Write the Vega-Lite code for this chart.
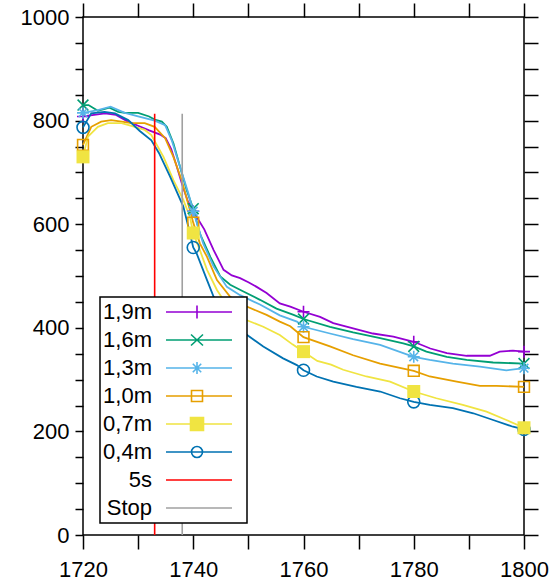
{
  "$schema": "https://vega.github.io/schema/vega-lite/v6.json",
  "width": 441,
  "height": 518,
  "autosize": {"type": "none"},
  "padding": {"left": 83, "top": 17, "right": 33, "bottom": 49},
  "background": "white",
  "config": {
    "font": "Liberation Sans",
    "view": {"stroke": "#000000", "strokeWidth": 1.5}
  },
  "datasets": {
    "lines": [
      {"series": "1,9m", "year": 1720, "value": 808}, {"series": "1,9m", "year": 1722, "value": 811}, {"series": "1,9m", "year": 1724, "value": 814}, {"series": "1,9m", "year": 1726, "value": 811}, {"series": "1,9m", "year": 1728, "value": 799}, {"series": "1,9m", "year": 1730, "value": 790}, {"series": "1,9m", "year": 1732, "value": 781}, {"series": "1,9m", "year": 1734, "value": 773}, {"series": "1,9m", "year": 1735, "value": 766}, {"series": "1,9m", "year": 1736, "value": 745}, {"series": "1,9m", "year": 1737, "value": 712}, {"series": "1,9m", "year": 1738, "value": 676}, {"series": "1,9m", "year": 1739, "value": 645}, {"series": "1,9m", "year": 1740, "value": 625}, {"series": "1,9m", "year": 1742, "value": 590}, {"series": "1,9m", "year": 1743.7, "value": 550}, {"series": "1,9m", "year": 1745.5, "value": 512}, {"series": "1,9m", "year": 1747, "value": 501}, {"series": "1,9m", "year": 1748.5, "value": 496}, {"series": "1,9m", "year": 1750, "value": 488}, {"series": "1,9m", "year": 1751.5, "value": 479}, {"series": "1,9m", "year": 1753.3, "value": 467}, {"series": "1,9m", "year": 1755.7, "value": 447}, {"series": "1,9m", "year": 1757.6, "value": 441}, {"series": "1,9m", "year": 1760, "value": 431}, {"series": "1,9m", "year": 1763, "value": 421}, {"series": "1,9m", "year": 1765.4, "value": 409}, {"series": "1,9m", "year": 1769, "value": 399}, {"series": "1,9m", "year": 1772.6, "value": 389}, {"series": "1,9m", "year": 1776.3, "value": 383}, {"series": "1,9m", "year": 1780, "value": 373}, {"series": "1,9m", "year": 1783, "value": 360}, {"series": "1,9m", "year": 1786, "value": 351}, {"series": "1,9m", "year": 1789.6, "value": 346}, {"series": "1,9m", "year": 1793.8, "value": 346}, {"series": "1,9m", "year": 1795.6, "value": 354}, {"series": "1,9m", "year": 1798, "value": 356}, {"series": "1,9m", "year": 1800, "value": 354},

      {"series": "1,6m", "year": 1720, "value": 830}, {"series": "1,6m", "year": 1721, "value": 830}, {"series": "1,6m", "year": 1722.7, "value": 819}, {"series": "1,6m", "year": 1724.8, "value": 825}, {"series": "1,6m", "year": 1726.4, "value": 817}, {"series": "1,6m", "year": 1727.6, "value": 815}, {"series": "1,6m", "year": 1730, "value": 815}, {"series": "1,6m", "year": 1732, "value": 808}, {"series": "1,6m", "year": 1733, "value": 802}, {"series": "1,6m", "year": 1734.3, "value": 798}, {"series": "1,6m", "year": 1735.2, "value": 788}, {"series": "1,6m", "year": 1736.4, "value": 756}, {"series": "1,6m", "year": 1737.6, "value": 711}, {"series": "1,6m", "year": 1738.8, "value": 666}, {"series": "1,6m", "year": 1740, "value": 630}, {"series": "1,6m", "year": 1741.2, "value": 582}, {"series": "1,6m", "year": 1743.1, "value": 537}, {"series": "1,6m", "year": 1744.9, "value": 499}, {"series": "1,6m", "year": 1746.7, "value": 483}, {"series": "1,6m", "year": 1749.1, "value": 470}, {"series": "1,6m", "year": 1752.1, "value": 454}, {"series": "1,6m", "year": 1755.1, "value": 437}, {"series": "1,6m", "year": 1758.2, "value": 425}, {"series": "1,6m", "year": 1760, "value": 417}, {"series": "1,6m", "year": 1764.8, "value": 402}, {"series": "1,6m", "year": 1769, "value": 391}, {"series": "1,6m", "year": 1773.9, "value": 380}, {"series": "1,6m", "year": 1778.1, "value": 370}, {"series": "1,6m", "year": 1780, "value": 364}, {"series": "1,6m", "year": 1782.3, "value": 354}, {"series": "1,6m", "year": 1786, "value": 344}, {"series": "1,6m", "year": 1789.6, "value": 338}, {"series": "1,6m", "year": 1794.4, "value": 333}, {"series": "1,6m", "year": 1800, "value": 331},

      {"series": "1,3m", "year": 1720, "value": 815}, {"series": "1,3m", "year": 1722.7, "value": 820}, {"series": "1,3m", "year": 1725, "value": 827}, {"series": "1,3m", "year": 1727.6, "value": 815}, {"series": "1,3m", "year": 1730, "value": 808}, {"series": "1,3m", "year": 1733, "value": 800}, {"series": "1,3m", "year": 1734.9, "value": 791}, {"series": "1,3m", "year": 1736.1, "value": 762}, {"series": "1,3m", "year": 1737.6, "value": 711}, {"series": "1,3m", "year": 1739.1, "value": 660}, {"series": "1,3m", "year": 1740, "value": 625}, {"series": "1,3m", "year": 1741.8, "value": 563}, {"series": "1,3m", "year": 1743.7, "value": 518}, {"series": "1,3m", "year": 1746.1, "value": 479}, {"series": "1,3m", "year": 1748.5, "value": 463}, {"series": "1,3m", "year": 1752.1, "value": 445}, {"series": "1,3m", "year": 1755.7, "value": 424}, {"series": "1,3m", "year": 1758.8, "value": 412}, {"series": "1,3m", "year": 1760, "value": 402}, {"series": "1,3m", "year": 1764.8, "value": 389}, {"series": "1,3m", "year": 1769, "value": 378}, {"series": "1,3m", "year": 1773.9, "value": 367}, {"series": "1,3m", "year": 1780, "value": 344}, {"series": "1,3m", "year": 1782.9, "value": 338}, {"series": "1,3m", "year": 1787.1, "value": 331}, {"series": "1,3m", "year": 1792, "value": 325}, {"series": "1,3m", "year": 1796.8, "value": 318}, {"series": "1,3m", "year": 1800, "value": 322},

      {"series": "1,0m", "year": 1720, "value": 753}, {"series": "1,0m", "year": 1721.5, "value": 788}, {"series": "1,0m", "year": 1723.3, "value": 798}, {"series": "1,0m", "year": 1725.1, "value": 801}, {"series": "1,0m", "year": 1727, "value": 798}, {"series": "1,0m", "year": 1728.8, "value": 795}, {"series": "1,0m", "year": 1731.2, "value": 795}, {"series": "1,0m", "year": 1733, "value": 788}, {"series": "1,0m", "year": 1734.9, "value": 766}, {"series": "1,0m", "year": 1736.4, "value": 730}, {"series": "1,0m", "year": 1737.9, "value": 685}, {"series": "1,0m", "year": 1739.4, "value": 627}, {"series": "1,0m", "year": 1740, "value": 603}, {"series": "1,0m", "year": 1741.2, "value": 563}, {"series": "1,0m", "year": 1742.5, "value": 537}, {"series": "1,0m", "year": 1744.3, "value": 492}, {"series": "1,0m", "year": 1746.7, "value": 460}, {"series": "1,0m", "year": 1749.7, "value": 441}, {"series": "1,0m", "year": 1753.3, "value": 425}, {"series": "1,0m", "year": 1755.7, "value": 412}, {"series": "1,0m", "year": 1757.6, "value": 403}, {"series": "1,0m", "year": 1760, "value": 382}, {"series": "1,0m", "year": 1764.8, "value": 364}, {"series": "1,0m", "year": 1769, "value": 347}, {"series": "1,0m", "year": 1773.9, "value": 331}, {"series": "1,0m", "year": 1780, "value": 317}, {"series": "1,0m", "year": 1782.9, "value": 306}, {"series": "1,0m", "year": 1787.8, "value": 296}, {"series": "1,0m", "year": 1792, "value": 288}, {"series": "1,0m", "year": 1795, "value": 288}, {"series": "1,0m", "year": 1800, "value": 286},

      {"series": "0,7m", "year": 1720, "value": 730}, {"series": "0,7m", "year": 1720.9, "value": 769}, {"series": "0,7m", "year": 1722.7, "value": 788}, {"series": "0,7m", "year": 1724.5, "value": 795}, {"series": "0,7m", "year": 1727, "value": 795}, {"series": "0,7m", "year": 1729.4, "value": 788}, {"series": "0,7m", "year": 1731.2, "value": 782}, {"series": "0,7m", "year": 1732.4, "value": 772}, {"series": "0,7m", "year": 1734.6, "value": 730}, {"series": "0,7m", "year": 1736.4, "value": 685}, {"series": "0,7m", "year": 1738.2, "value": 647}, {"series": "0,7m", "year": 1739.4, "value": 614}, {"series": "0,7m", "year": 1740, "value": 583}, {"series": "0,7m", "year": 1741.2, "value": 550}, {"series": "0,7m", "year": 1742.5, "value": 512}, {"series": "0,7m", "year": 1744.3, "value": 473}, {"series": "0,7m", "year": 1746.7, "value": 434}, {"series": "0,7m", "year": 1749.4, "value": 416}, {"series": "0,7m", "year": 1752.7, "value": 402}, {"series": "0,7m", "year": 1755.7, "value": 386}, {"series": "0,7m", "year": 1758, "value": 368}, {"series": "0,7m", "year": 1760, "value": 354}, {"series": "0,7m", "year": 1762.5, "value": 336}, {"series": "0,7m", "year": 1765, "value": 329}, {"series": "0,7m", "year": 1767.2, "value": 319}, {"series": "0,7m", "year": 1771.4, "value": 306}, {"series": "0,7m", "year": 1775.7, "value": 296}, {"series": "0,7m", "year": 1780, "value": 277}, {"series": "0,7m", "year": 1784.1, "value": 264}, {"series": "0,7m", "year": 1788.9, "value": 251}, {"series": "0,7m", "year": 1793.2, "value": 238}, {"series": "0,7m", "year": 1796.8, "value": 222}, {"series": "0,7m", "year": 1800, "value": 207},

      {"series": "0,4m", "year": 1720, "value": 787}, {"series": "0,4m", "year": 1721.5, "value": 814}, {"series": "0,4m", "year": 1723.9, "value": 817}, {"series": "0,4m", "year": 1725.8, "value": 814}, {"series": "0,4m", "year": 1728.2, "value": 801}, {"series": "0,4m", "year": 1730.3, "value": 780}, {"series": "0,4m", "year": 1732.4, "value": 762}, {"series": "0,4m", "year": 1733.8, "value": 737}, {"series": "0,4m", "year": 1735.8, "value": 692}, {"series": "0,4m", "year": 1738.2, "value": 634}, {"series": "0,4m", "year": 1739, "value": 600}, {"series": "0,4m", "year": 1740, "value": 555}, {"series": "0,4m", "year": 1740.6, "value": 544}, {"series": "0,4m", "year": 1742.5, "value": 492}, {"series": "0,4m", "year": 1743.7, "value": 460}, {"series": "0,4m", "year": 1746.5, "value": 422}, {"series": "0,4m", "year": 1749.4, "value": 389}, {"series": "0,4m", "year": 1752.7, "value": 364}, {"series": "0,4m", "year": 1756.3, "value": 341}, {"series": "0,4m", "year": 1758.8, "value": 328}, {"series": "0,4m", "year": 1760, "value": 318}, {"series": "0,4m", "year": 1762.4, "value": 306}, {"series": "0,4m", "year": 1765.4, "value": 296}, {"series": "0,4m", "year": 1769.6, "value": 286}, {"series": "0,4m", "year": 1773.9, "value": 277}, {"series": "0,4m", "year": 1777.5, "value": 264}, {"series": "0,4m", "year": 1780, "value": 257}, {"series": "0,4m", "year": 1782.9, "value": 251}, {"series": "0,4m", "year": 1787.1, "value": 245}, {"series": "0,4m", "year": 1790.8, "value": 235}, {"series": "0,4m", "year": 1794.4, "value": 222}, {"series": "0,4m", "year": 1798, "value": 209}, {"series": "0,4m", "year": 1800, "value": 204}
    ],
    "marks": [
      {"series": "1,9m", "year": 1720, "value": 808}, {"series": "1,9m", "year": 1740, "value": 625}, {"series": "1,9m", "year": 1760, "value": 431}, {"series": "1,9m", "year": 1780, "value": 373}, {"series": "1,9m", "year": 1800, "value": 354},
      {"series": "1,6m", "year": 1720, "value": 830}, {"series": "1,6m", "year": 1740, "value": 630}, {"series": "1,6m", "year": 1760, "value": 417}, {"series": "1,6m", "year": 1780, "value": 364}, {"series": "1,6m", "year": 1800, "value": 331},
      {"series": "1,3m", "year": 1720, "value": 815}, {"series": "1,3m", "year": 1740, "value": 625}, {"series": "1,3m", "year": 1760, "value": 402}, {"series": "1,3m", "year": 1780, "value": 344}, {"series": "1,3m", "year": 1800, "value": 322},
      {"series": "1,0m", "year": 1720, "value": 753}, {"series": "1,0m", "year": 1740, "value": 603}, {"series": "1,0m", "year": 1760, "value": 382}, {"series": "1,0m", "year": 1780, "value": 317}, {"series": "1,0m", "year": 1800, "value": 286},
      {"series": "0,7m", "year": 1720, "value": 730}, {"series": "0,7m", "year": 1740, "value": 583}, {"series": "0,7m", "year": 1760, "value": 354}, {"series": "0,7m", "year": 1780, "value": 277}, {"series": "0,7m", "year": 1800, "value": 207},
      {"series": "0,4m", "year": 1720, "value": 787}, {"series": "0,4m", "year": 1740, "value": 555}, {"series": "0,4m", "year": 1760, "value": 318}, {"series": "0,4m", "year": 1780, "value": 257}, {"series": "0,4m", "year": 1800, "value": 204}
    ],
    "rules": [
      {"series": "5s", "year": 1733, "low": 0, "high": 813},
      {"series": "Stop", "year": 1738, "low": 0, "high": 813}
    ]
  },
  "layer": [
    {
      "data": {"name": "lines"},
      "mark": {"type": "line", "strokeWidth": 1.8},
      "encoding": {
        "x": {
          "field": "year", "type": "quantitative",
          "scale": {"domain": [1720, 1800], "nice": false, "zero": false},
          "axis": {
            "orient": "bottom", "title": null, "grid": false, "domain": false,
            "values": [1720, 1730, 1740, 1750, 1760, 1770, 1780, 1790, 1800],
            "format": "d",
            "labelExpr": "datum.value % 20 === 0 ? datum.label : ''",
            "labelFontSize": 22, "labelColor": "#000000", "labelFont": "Liberation Sans",
            "labelFlush": false, "labelOverlap": false, "labelBound": false,
            "tickSize": 14, "labelPadding": 10, "tickColor": "#000000", "tickWidth": 1.5,
            "encode": {"ticks": {"update": {"y2": {"signal": "datum.value % 20 === 0 ? -14 : -7"}}}}
          }
        },
        "y": {
          "field": "value", "type": "quantitative",
          "scale": {"domain": [0, 1000], "nice": false},
          "axis": {
            "orient": "left", "title": null, "grid": false, "domain": false,
            "values": [0, 50, 100, 150, 200, 250, 300, 350, 400, 450, 500, 550, 600, 650, 700, 750, 800, 850, 900, 950, 1000],
            "format": "d",
            "labelExpr": "datum.value % 200 === 0 ? datum.label : ''",
            "labelFontSize": 22, "labelColor": "#000000", "labelFont": "Liberation Sans",
            "labelOverlap": false, "labelBound": false, "labelFlush": false,
            "tickSize": 8, "labelPadding": 6, "tickColor": "#000000", "tickWidth": 1.5,
            "encode": {"ticks": {"update": {"x2": {"signal": "datum.value % 200 === 0 ? 14 : 7"}}}}
          }
        },
        "color": {
          "field": "series", "type": "nominal",
          "scale": {
            "domain": ["1,9m", "1,6m", "1,3m", "1,0m", "0,7m", "0,4m", "5s", "Stop"],
            "range": ["#9400d3", "#009e73", "#56b4e9", "#e69f00", "#f0e442", "#0072b2", "#ff0000", "#a0a0a0"]
          },
          "legend": {
            "orient": "none", "legendX": 17, "legendY": 280,
            "title": null,
            "fillColor": "#ffffff", "strokeColor": "#000000",
            "padding": 4, "rowPadding": 6,
            "labelFont": "Liberation Sans", "labelFontSize": 22, "labelColor": "#000000",
            "labelAlign": "right", "labelOffset": 26, "labelLimit": 0,
            "symbolSize": 400, "symbolStrokeWidth": 1.6,
            "encode": {
              "legend": {"update": {"strokeWidth": {"value": 1.5}}},
              "symbols": {
                "update": {
                  "shape": {"signal": "datum.value === '1,9m' ? 'M5.1,0H11.7M8.2,-0.65V0.65M12.4,0' : datum.value === '1,6m' ? 'M5.1,0H11.7M7.6,-0.55L8.8,0.55M7.6,0.55L8.8,-0.55M12.4,0' : datum.value === '1,3m' ? 'M5.1,0H11.7M8.2,-0.6V0.6M7.78,-0.42L8.62,0.42M7.78,0.42L8.62,-0.42M12.4,0' : datum.value === '1,0m' ? 'M5.1,0H11.7M7.65,-0.55H8.75V0.55H7.65ZM12.4,0' : datum.value === '0,7m' ? 'M5.1,0H11.7M7.55,-0.65H8.85V0.65H7.55ZM12.4,0' : datum.value === '0,4m' ? 'M5.1,0H11.7M8.75,0A0.55,0.55,0,1,1,7.65,0A0.55,0.55,0,1,1,8.75,0M12.4,0' : 'M5.1,0H11.7M12.4,0'"},
                  "fill": {"signal": "datum.value === '0,7m' ? '#f0e442' : 'transparent'"},
                  "fillOpacity": {"signal": "datum.value === '0,7m' ? 1 : 0"},
                  "stroke": {"scale": "color", "field": "value"},
                  "strokeWidth": {"value": 1.6},
                  "opacity": {"value": 1}
                }
              }
            }
          }
        }
      }
    },
    {
      "data": {"name": "marks"},
      "transform": [{"filter": "datum.series !== '0,7m'"}],
      "mark": {"type": "point", "filled": false, "strokeWidth": 1.6, "size": 144, "opacity": 1},
      "encoding": {
        "x": {"field": "year", "type": "quantitative", "axis": null},
        "y": {"field": "value", "type": "quantitative", "axis": null},
        "color": {"field": "series", "type": "nominal"},
        "shape": {
          "field": "series", "type": "nominal", "legend": null,
          "scale": {
            "domain": ["1,9m", "1,6m", "1,3m", "1,0m", "0,4m"],
            "range": ["M-1,0H1M0,-1V1", "M-0.9,-0.9L0.9,0.9M-0.9,0.9L0.9,-0.9", "M-1,0H1M0,-1V1M-0.72,-0.72L0.72,0.72M-0.72,0.72L0.72,-0.72", "M-0.9,-0.9H0.9V0.9H-0.9Z", "circle"]
          }
        }
      }
    },
    {
      "data": {"name": "marks"},
      "transform": [{"filter": "datum.series === '0,7m'"}],
      "mark": {"type": "square", "size": 169, "opacity": 1, "color": "#f0e442"},
      "encoding": {
        "x": {"field": "year", "type": "quantitative", "axis": null},
        "y": {"field": "value", "type": "quantitative", "axis": null}
      }
    },
    {
      "data": {"name": "rules"},
      "mark": {"type": "rule", "strokeWidth": 1.6},
      "encoding": {
        "x": {
          "field": "year", "type": "quantitative",
          "axis": {
            "orient": "top", "title": null, "grid": false, "domain": false, "labels": false,
            "values": [1720, 1730, 1740, 1750, 1760, 1770, 1780, 1790, 1800],
            "tickSize": 14, "tickColor": "#000000", "tickWidth": 1.5,
            "encode": {"ticks": {"update": {"y2": {"signal": "datum.value % 20 === 0 ? 14 : 7"}}}}
          }
        },
        "y": {
          "field": "low", "type": "quantitative",
          "axis": {
            "orient": "right", "title": null, "grid": false, "domain": false, "labels": false,
            "values": [0, 50, 100, 150, 200, 250, 300, 350, 400, 450, 500, 550, 600, 650, 700, 750, 800, 850, 900, 950, 1000],
            "tickSize": 14, "tickColor": "#000000", "tickWidth": 1.5,
            "encode": {"ticks": {"update": {"x2": {"signal": "datum.value % 200 === 0 ? -14 : -7"}}}}
          }
        },
        "y2": {"field": "high"},
        "color": {"field": "series", "type": "nominal"}
      }
    }
  ],
  "resolve": {"axis": {"x": "independent", "y": "independent"}}
}
